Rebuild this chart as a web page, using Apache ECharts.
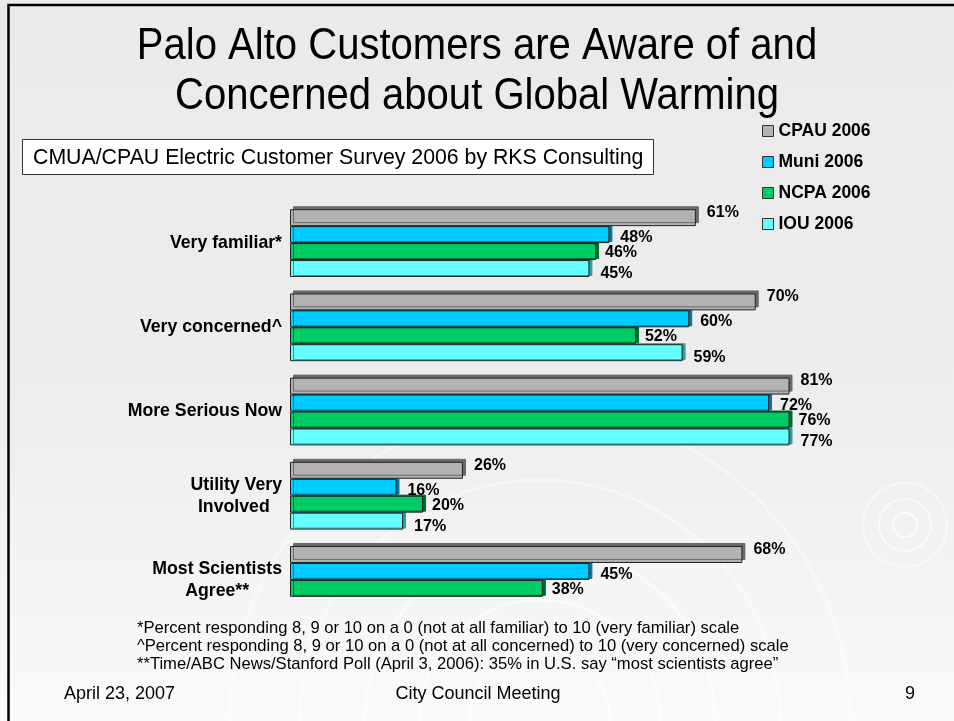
<!DOCTYPE html>
<html>
<head>
<meta charset="utf-8">
<script src="https://cdn.jsdelivr.net/npm/echarts@6/dist/echarts.min.js"></script>
<style>
html,body{margin:0;padding:0;background:#ebebeb;}
#chart{width:954px;height:721px;}
</style>
</head>
<body>
<div id="chart"></div>
<script>
// ---- data ----
var categories = ['Very familiar*', 'Very concerned^', 'More Serious Now', 'Utility Very\nInvolved ', 'Most Scientists\nAgree**'];
var seriesNames = ['CPAU 2006', 'Muni 2006', 'NCPA 2006', 'IOU 2006'];
var cpau2006 = [61, 70, 81, 26, 68];
var muni2006 = [48, 60, 72, 16, 45];
var ncpa2006 = [46, 52, 76, 20, 38];
var iou2006  = [45, 59, 77, 17, null];
var axisMin = 0, axisMax = 75;

var titleText = 'Palo Alto Customers are Aware of and\nConcerned about Global Warming';
var subtitleText = 'CMUA/CPAU Electric Customer Survey 2006 by RKS Consulting';
var footnotes = [
  '*Percent responding 8, 9 or 10 on a 0 (not at all familiar) to 10 (very familiar) scale',
  '^Percent responding 8, 9 or 10 on a 0 (not at all concerned) to 10 (very concerned) scale',
  '**Time/ABC News/Stanford Poll (April 3, 2006): 35% in U.S. say \u201cmost scientists agree\u201d'
];
var footerLeft = 'April 23, 2007', footerCenter = 'City Council Meeting', footerRight = '9';

// ---- styles ----
var FONT = '"Liberation Sans", Arial, sans-serif';
var colors = ['#B2B2B2', '#00CCFF', '#00CC66', '#66FFFF'];
var sides  = ['#6a6a6a', '#007799', '#006633', '#339999'];
var labelOffsets = [[8, -5], [8, 3], [6, 1], [8, 5]];
var shadowOff = [[3, -3], [3, -1], [3, -1], [3, -1]];
var datasets = [cpau2006, muni2006, ncpa2006, iou2006];

var series = seriesNames.map(function (name, i) {
  return {
    name: name,
    type: 'bar',
    data: datasets[i],
    barGap: '0%',
    barCategoryGap: '19.5%',
    clip: true,
    z: 10 - i,
    itemStyle: {
      color: colors[i],
      borderColor: '#222',
      borderWidth: 1,
      shadowColor: sides[i],
      shadowBlur: 0,
      shadowOffsetX: shadowOff[i][0],
      shadowOffsetY: shadowOff[i][1]
    },
    label: {
      show: true,
      position: 'right',
      distance: 3,
      offset: labelOffsets[i],
      formatter: '{c}%',
      color: '#000',
      fontFamily: FONT,
      fontWeight: 'bold',
      fontSize: 16
    },
    emphasis: { disabled: true }
  };
});

var chart = echarts.init(document.getElementById('chart'), null, { renderer: 'canvas' });

function ring(cx, cy, r, a, w) {
  return { type: 'circle', silent: true, z: -90, shape: { cx: cx, cy: cy, r: r },
    style: { fill: 'none', stroke: 'rgba(255,255,255,' + a + ')', lineWidth: w } };
}

var graphics = [
  { type: 'rect', silent: true, z: -100,
    shape: { x: 0, y: 0, width: 954, height: 721 },
    style: { fill: new echarts.graphic.LinearGradient(0, 0, 0, 1, [
      { offset: 0, color: '#EAEAEA' }, { offset: 0.55, color: '#EDEDED' }, { offset: 1, color: '#FAFAFA' }]) } },
  ring(905, 525, 12, 0.8, 2), ring(905, 525, 26, 0.7, 2), ring(905, 525, 42, 0.5, 2),
  ring(540, 720, 70, 0.6, 3), ring(540, 720, 120, 0.55, 3), ring(540, 720, 175, 0.5, 3),
  ring(540, 720, 240, 0.45, 3), ring(540, 720, 310, 0.4, 3),
  // frame
  { type: 'rect', silent: true, z: 50, shape: { x: 8.5, y: 5, width: 1000, height: 800 },
    style: { fill: 'none', stroke: '#000', lineWidth: 2.5 } },
  // title (slightly condensed like the original)
  { type: 'text', silent: true, z: 20, x: 477, y: 22, scaleX: 0.91, scaleY: 1,
    style: { text: titleText, font: '44px ' + FONT, fill: '#000', textAlign: 'center', textVerticalAlign: 'top',
      lineHeight: 50, textShadowColor: '#fff', textShadowOffsetX: 1.5, textShadowOffsetY: 1.5, textShadowBlur: 0,
      shadowColor: '#fff', shadowOffsetX: 1.5, shadowOffsetY: 1.5, shadowBlur: 0 } },
  // subtitle box
  { type: 'rect', silent: true, z: 5, shape: { x: 22.5, y: 139.5, width: 631, height: 35 },
    style: { fill: '#fff', stroke: '#333', lineWidth: 1 } },
  { type: 'text', silent: true, z: 6, x: 33, y: 158,
    style: { text: subtitleText, font: '21.3px ' + FONT, fill: '#000', textVerticalAlign: 'middle' } }
];
footnotes.forEach(function (t, i) {
  graphics.push({ type: 'text', silent: true, z: 6, x: 137, y: 628 + i * 18,
    style: { text: t, font: '16.6px ' + FONT, fill: '#000', textVerticalAlign: 'middle' } });
});
graphics.push({ type: 'text', silent: true, z: 6, x: 64, y: 694,
  style: { text: footerLeft, font: '18px ' + FONT, fill: '#000', textVerticalAlign: 'middle' } });
graphics.push({ type: 'text', silent: true, z: 6, x: 478, y: 694,
  style: { text: footerCenter, font: '18px ' + FONT, fill: '#000', textAlign: 'center', textVerticalAlign: 'middle' } });
graphics.push({ type: 'text', silent: true, z: 6, x: 905, y: 694,
  style: { text: footerRight, font: '18px ' + FONT, fill: '#000', textVerticalAlign: 'middle' } });

var option = {
  animation: false,
  backgroundColor: 'transparent',
  legend: {
    orient: 'vertical',
    left: 762,
    top: 122,
    padding: 0,
    itemWidth: 11,
    itemHeight: 11,
    itemGap: 13,
    icon: 'rect',
    data: seriesNames,
    itemStyle: { borderColor: '#333', borderWidth: 1, shadowColor: 'transparent', shadowOffsetX: 0, shadowOffsetY: 0 },
    textStyle: { fontFamily: FONT, fontSize: 17.5, fontWeight: 'bold', color: '#000', padding: [0, 0, 0, 0] }
  },
  grid: { left: 290, right: 165, top: 201, bottom: 99, containLabel: false },
  xAxis: {
    type: 'value', min: axisMin, max: axisMax, show: false
  },
  yAxis: {
    type: 'category',
    data: categories,
    inverse: true,
    axisLine: { show: false },
    axisTick: { show: false },
    splitLine: { show: false },
    axisLabel: {
      margin: 8,
      formatter: function (v) {
        return v.split('\n').map(function (s) { return '{c|' + s + '}'; }).join('\n');
      },
      rich: {
        c: { align: 'center', fontFamily: FONT, fontSize: 17.7, fontWeight: 'bold', color: '#000', lineHeight: 22 }
      }
    }
  },
  series: series,
  graphic: graphics
};
chart.setOption(option);
</script>
</body>
</html>
